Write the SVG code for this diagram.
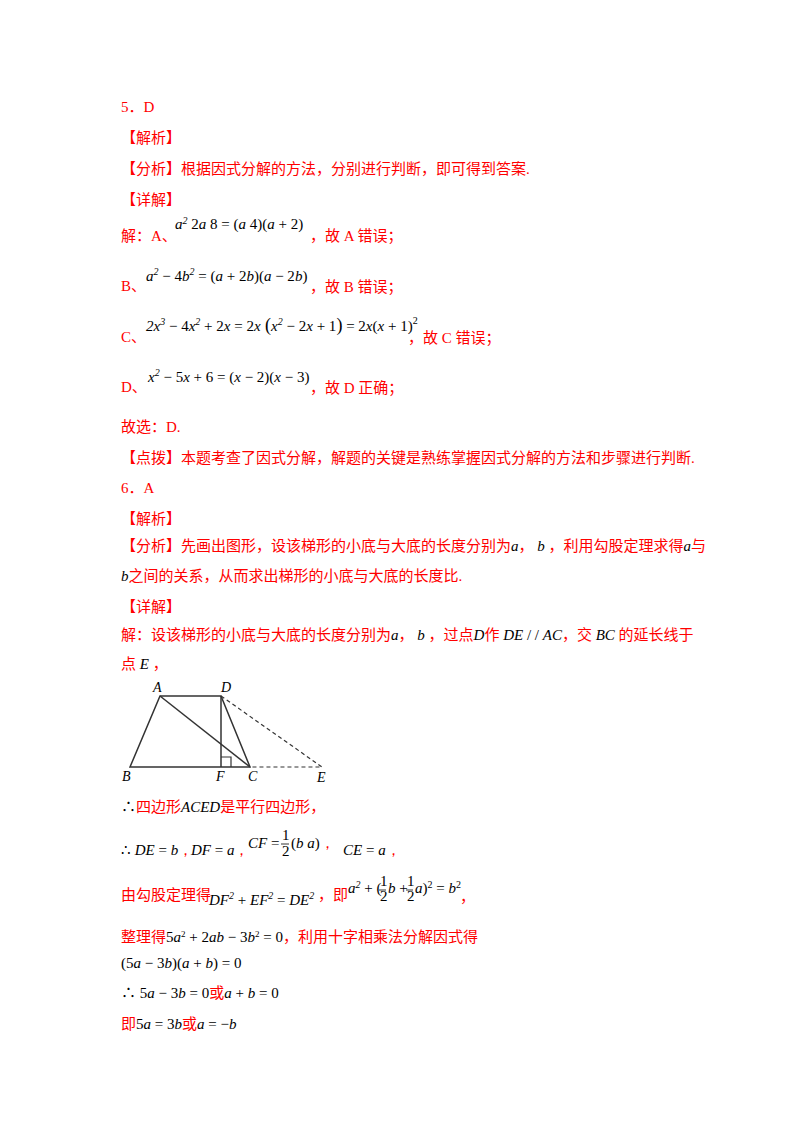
<svg xmlns="http://www.w3.org/2000/svg" width="800" height="1132" viewBox="0 0 800 1132" xml:space="preserve">
<style>
.r{fill:#ff0000;font-family:"Liberation Serif","Noto Sans CJK SC",serif;font-size:15px}
.m{fill:#000;font-family:"Liberation Serif",serif;font-style:italic;font-size:15px}
.n{font-style:normal}
.s{font-size:10px}
.f{fill:#000;font-family:"Liberation Serif",serif;font-style:italic;font-size:14px}
</style>
<rect width="800" height="1132" fill="#fff"/>
<text class="r" x="121" y="112">5．D</text>
<text class="r" x="121" y="143">【解析】</text>
<text class="r" x="121" y="174">【分析】根据因式分解的方法，分别进行判断，即可得到答案.</text>
<text class="r" x="121" y="205">【详解】</text>
<text class="r" x="121" y="241">解：A、</text>
<text class="m" x="175" y="229" font-size="13">a<tspan class="s" dy="-5">2</tspan><tspan dy="5" class="n">    2</tspan>a<tspan class="n">    8 = (</tspan>a<tspan class="n">    4)(</tspan>a<tspan class="n"> + 2)</tspan></text>
<text class="r" x="310" y="241">，故 A 错误；</text>
<text class="r" x="121" y="291">B、</text>
<text class="m" x="146" y="281">a<tspan class="s" dy="-6">2</tspan><tspan dy="6" class="n"> − 4</tspan>b<tspan class="s" dy="-6">2</tspan><tspan dy="6" class="n"> = (</tspan>a<tspan class="n"> + 2</tspan>b<tspan class="n">)(</tspan>a<tspan class="n"> − 2</tspan>b<tspan class="n">)</tspan></text>
<text class="r" x="310" y="292">，故 B 错误；</text>
<text class="r" x="121" y="342">C、</text>
<text class="m" x="146" y="331">2x<tspan class="s" dy="-6">3</tspan><tspan dy="6" class="n"> − 4</tspan>x<tspan class="s" dy="-6">2</tspan><tspan dy="6" class="n"> + 2</tspan>x<tspan class="n"> = 2</tspan>x<tspan class="n" font-size="18"> (</tspan>x<tspan class="s" dy="-6">2</tspan><tspan dy="6" class="n"> − 2</tspan>x<tspan class="n"> + 1</tspan><tspan class="n" font-size="18">)</tspan><tspan class="n"> = 2</tspan>x<tspan class="n">(</tspan>x<tspan class="n"> + 1)</tspan><tspan class="s n" dy="-7">2</tspan></text>
<text class="r" x="408" y="343">，故 C 错误；</text>
<text class="r" x="121" y="392">D、</text>
<text class="m" x="148" y="382">x<tspan class="s" dy="-6">2</tspan><tspan dy="6" class="n"> − 5</tspan>x<tspan class="n"> + 6 = (</tspan>x<tspan class="n"> − 2)(</tspan>x<tspan class="n"> − 3)</tspan></text>
<text class="r" x="310" y="393">，故 D 正确；</text>
<text class="r" x="121" y="432">故选：D.</text>
<text class="r" x="121" y="463">【点拨】本题考查了因式分解，解题的关键是熟练掌握因式分解的方法和步骤进行判断.</text>
<text class="r" x="121" y="493">6．A</text>
<text class="r" x="121" y="524">【解析】</text>
<text class="r" x="121" y="551">【分析】先画出图形，设该梯形的小底与大底的长度分别为<tspan class="m">a</tspan>， <tspan class="m">b</tspan> ，利用勾股定理求得<tspan class="m">a</tspan>与</text>
<text class="r" x="121" y="581"><tspan class="m">b</tspan>之间的关系，从而求出梯形的小底与大底的长度比.</text>
<text class="r" x="121" y="612">【详解】</text>
<text class="r" x="121" y="640">解：设该梯形的小底与大底的长度分别为<tspan class="m">a</tspan>， <tspan class="m">b</tspan> ，过点<tspan class="m">D</tspan>作<tspan class="m"> DE</tspan><tspan fill="#000"> / / </tspan><tspan class="m">AC</tspan>，交<tspan class="m"> BC </tspan>的延长线于</text>
<text class="r" x="121" y="669">点<tspan class="m"> E</tspan> ，</text>
<g id="figure" fill="none" stroke="#333" stroke-width="1.5">
<polygon points="160,696 221,696 250,767 130,767"/>
<line x1="160" y1="696" x2="250" y2="767"/>
<line x1="221" y1="696" x2="221" y2="767"/>
<polyline points="221,757 231,757 231,767" stroke-width="1.2"/>
<polyline points="221,696 322,767 250,767" stroke-dasharray="4,3" stroke-width="1.2"/>
</g>
<text class="f" x="153" y="692">A</text>
<text class="f" x="221" y="692">D</text>
<text class="f" x="122" y="781">B</text>
<text class="f" x="216" y="781">F</text>
<text class="f" x="248" y="781">C</text>
<text class="f" x="317" y="782">E</text>
<text class="r" x="121" y="812"><tspan fill="#000" class="n">∴</tspan>四边形<tspan class="m">ACED</tspan>是平行四边形，</text>
<text class="m" x="121" y="855" font-size="12"><tspan class="n">∴ </tspan>DE<tspan class="n"> = </tspan>b<tspan fill="#f00" class="n">，</tspan></text>
<text class="m" x="191" y="855">DF<tspan class="n"> = </tspan>a<tspan fill="#f00" class="n">，</tspan></text>
<text class="m" x="248" y="848" font-size="12">CF<tspan class="n"> = </tspan></text>
<text class="m n" x="282" y="840" font-size="12">1</text>
<line x1="281" y1="844" x2="289" y2="844" stroke="#000" stroke-width="0.8"/>
<text class="m n" x="282" y="856" font-size="12">2</text>
<text class="m" x="291" y="848" font-size="12"><tspan class="n">(</tspan>b<tspan class="n">    </tspan>a<tspan class="n">)</tspan><tspan fill="#f00" class="n">，</tspan></text>
<text class="m" x="343" y="855">CE<tspan class="n"> = </tspan>a<tspan fill="#f00" class="n">，</tspan></text>
<text class="r" x="121" y="900">由勾股定理得</text>
<text class="m" x="209" y="905">DF<tspan class="s" dy="-6">2</tspan><tspan dy="6" class="n"> + </tspan>EF<tspan class="s" dy="-6">2</tspan><tspan dy="6" class="n"> = </tspan>DE<tspan class="s" dy="-6">2</tspan></text>
<text class="r" x="318" y="900">，即</text>
<text class="m" x="348" y="893" font-size="12">a<tspan class="s" dy="-5">2</tspan><tspan dy="5" class="n"> + (</tspan></text>
<text class="m n" x="380" y="886" font-size="11">1</text>
<line x1="379" y1="890" x2="386" y2="890" stroke="#000" stroke-width="0.8"/>
<text class="m n" x="380" y="901" font-size="11">2</text>
<text class="m" x="388" y="893" font-size="12">b<tspan class="n"> + </tspan></text>
<text class="m n" x="407" y="886" font-size="11">1</text>
<line x1="406" y1="890" x2="413" y2="890" stroke="#000" stroke-width="0.8"/>
<text class="m n" x="407" y="901" font-size="11">2</text>
<text class="m" x="415" y="893" font-size="12">a<tspan class="n">)</tspan><tspan class="s n" dy="-5">2</tspan><tspan dy="5" class="n"> = </tspan>b<tspan class="s n" dy="-5">2</tspan></text>
<text class="r" x="460" y="902">，</text>
<text class="r" x="121" y="942">整理得<tspan fill="#000" class="n">5</tspan><tspan class="m">a</tspan><tspan fill="#000" font-size="9" dy="-5">2</tspan><tspan fill="#000" dy="5"> + 2</tspan><tspan class="m">ab</tspan><tspan fill="#000"> − 3</tspan><tspan class="m">b</tspan><tspan fill="#000" font-size="9" dy="-5">2</tspan><tspan fill="#000" dy="5"> = 0</tspan>，利用十字相乘法分解因式得</text>
<text class="m" x="121" y="968" font-size="12"><tspan class="n">(5</tspan>a<tspan class="n"> − 3</tspan>b<tspan class="n">)(</tspan>a<tspan class="n"> + </tspan>b<tspan class="n">) = 0</tspan></text>
<text class="r" x="121" y="998"><tspan fill="#000">∴ 5</tspan><tspan class="m">a</tspan><tspan fill="#000"> − 3</tspan><tspan class="m">b</tspan><tspan fill="#000"> = 0</tspan>或<tspan class="m">a</tspan><tspan fill="#000"> + </tspan><tspan class="m">b</tspan><tspan fill="#000"> = 0</tspan></text>
<text class="r" x="121" y="1029">即<tspan fill="#000">5</tspan><tspan class="m">a</tspan><tspan fill="#000"> = 3</tspan><tspan class="m">b</tspan>或<tspan class="m">a</tspan><tspan fill="#000"> = −</tspan><tspan class="m">b</tspan></text>
</svg>
